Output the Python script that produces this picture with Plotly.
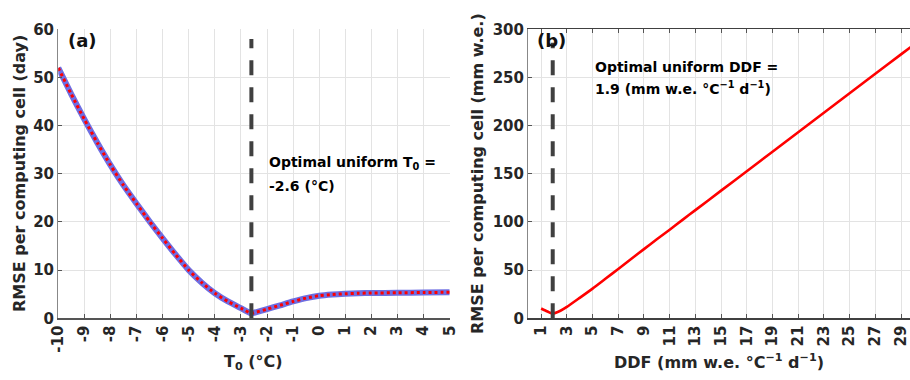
import plotly.graph_objects as go

# ---- data (a) ----
t0 = [-10, -9.5, -9, -8.5, -8, -7.5, -7, -6.5, -6, -5.5, -5, -4.5, -4, -3.5, -3, -2.6,
      -2.5, -2, -1.5, -1, -0.5, 0, 0.5, 1, 1.5, 2, 3, 4, 5]
rmse_t0 = [52.0, 46.5, 41.3, 36.4, 31.8, 27.6, 23.8, 20.1, 16.6, 13.2, 10.0, 7.4, 5.2, 3.5, 2.1, 1.0,
           1.15, 1.9, 2.7, 3.5, 4.2, 4.7, 4.95, 5.1, 5.2, 5.25, 5.3, 5.35, 5.4]
opt_t0 = -2.6
t0_ticks = list(range(-10, 6))

# ---- data (b) ----
ddf = [1, 1.5, 1.9, 2.5, 3, 4, 5, 6, 7, 8, 9, 10, 11, 12, 13, 15, 17, 19, 21, 23, 25, 27, 29, 30]
rmse_ddf = [10.2, 7.0, 4.8, 7.8, 11.8, 21.2, 30.8, 41.0, 51.2, 61.5, 71.8, 82.0, 92.0, 102.2, 112.3,
            132.5, 152.7, 172.9, 193.2, 213.4, 233.6, 253.8, 274.0, 284.0]
opt_ddf = 1.9
ddf_ticks = list(range(1, 30, 2))

W, H = 910, 380
def px(x): return x / W
def py(y): return 1 - y / H

TXT = "#262626"
GRID = "#e3e3e3"
FONT = "DejaVu Sans"

fig = go.Figure()

# (a) curves
fig.add_trace(go.Scatter(x=t0, y=rmse_t0, mode="lines", line=dict(color="#6e6ee2", width=6, shape="spline", smoothing=0.6),
                         xaxis="x", yaxis="y", showlegend=False, hoverinfo="skip"))
fig.add_trace(go.Scatter(x=t0, y=rmse_t0, mode="lines", line=dict(color="#ff0000", width=3, dash="dot", shape="spline", smoothing=0.6),
                         xaxis="x", yaxis="y", showlegend=False, hoverinfo="skip"))
fig.add_trace(go.Scatter(x=[opt_t0, opt_t0], y=[0, 58], mode="lines",
                         line=dict(color="#404040", width=4, dash="15px,12px"),
                         xaxis="x", yaxis="y", showlegend=False, hoverinfo="skip"))

# (b) curves
fig.add_trace(go.Scatter(x=ddf, y=rmse_ddf, mode="lines", line=dict(color="#ff0000", width=2.6, shape="spline", smoothing=0.6),
                         xaxis="x2", yaxis="y2", showlegend=False, hoverinfo="skip"))
fig.add_trace(go.Scatter(x=[opt_ddf, opt_ddf], y=[0, 286], mode="lines",
                         line=dict(color="#404040", width=4, dash="15px,12px"),
                         xaxis="x2", yaxis="y2", showlegend=False, hoverinfo="skip"))

tickfont = dict(family=FONT, size=15, color=TXT, weight="bold")
common_x = dict(showgrid=True, gridcolor=GRID, gridwidth=1, ticks="inside", ticklen=4, tickcolor="#555",
                tickangle=-90, tickfont=tickfont, zeroline=False, showline=True, linewidth=1.3,
                automargin=False, ticklabeloverflow="allow")
common_y = dict(showgrid=True, gridcolor=GRID, gridwidth=1, ticks="inside", ticklen=4, tickcolor="#555",
                tickfont=tickfont, zeroline=False, showline=True, linecolor="#888", linewidth=1.3,
                automargin=False)

ya0, ya1 = py(318.3), py(29.3)
fig.update_layout(
    width=W, height=H, margin=dict(l=0, r=0, t=0, b=0),
    paper_bgcolor="white", plot_bgcolor="white", showlegend=False,
    xaxis=dict(domain=[px(58.3), px(449.7)], range=[-10, 5], tickvals=t0_ticks,
               ticktext=[str(v) for v in t0_ticks], anchor="y", linecolor="#555", **common_x),
    yaxis=dict(domain=[ya0, ya1], range=[0, 60], tickvals=[0, 10, 20, 30, 40, 50, 60], anchor="x", **common_y),
    xaxis2=dict(domain=[px(528.3), 1.0], range=[0, 29.7], tickvals=ddf_ticks, anchor="y2",
                mirror="ticks", linecolor="#404040", **common_x),
    yaxis2=dict(domain=[ya0, ya1], range=[0, 300], tickvals=[0, 50, 100, 150, 200, 250, 300], anchor="x2", **common_y),
)

def ann(x, y, text, size=14, color="#000", angle=0, xanchor="left"):
    fig.add_annotation(x=px(x), y=py(y), xref="paper", yref="paper", text=text, showarrow=False,
                       xanchor=xanchor, yanchor="middle", textangle=angle,
                       font=dict(family=FONT, size=size, color=color, weight="bold"))

# panel labels
ann(66, 40, "(a)", size=18, color="#111")
ann(535, 40, "(b)", size=18, color="#111")
# optimum notes
ann(267, 163, "Optimal uniform T<sub>0</sub> =")
ann(267, 186, "-2.6 (°C)")
ann(593, 67, "Optimal uniform DDF =")
ann(593, 88, "1.9 (mm w.e. °C<sup>\u22121</sup> d<sup>\u22121</sup>)")
# axis titles
ann(19, 174, "RMSE per computing cell (day)", size=16, color=TXT, angle=-90, xanchor="center")
ann(477, 174, "RMSE per computing cell (mm w.e.)", size=16, color=TXT, angle=-90, xanchor="center")
ann(253, 362, "T<sub>0</sub> (°C)", size=16, color=TXT, xanchor="center")
ann(719, 361, "DDF (mm w.e. °C<sup>\u22121</sup> d<sup>\u22121</sup>)", size=16, color=TXT, xanchor="center")

fig.write_html("out.html", config={"displayModeBar": False, "staticPlot": True},
               post_script="document.body.style.margin='0';document.body.style.overflow='hidden';")
